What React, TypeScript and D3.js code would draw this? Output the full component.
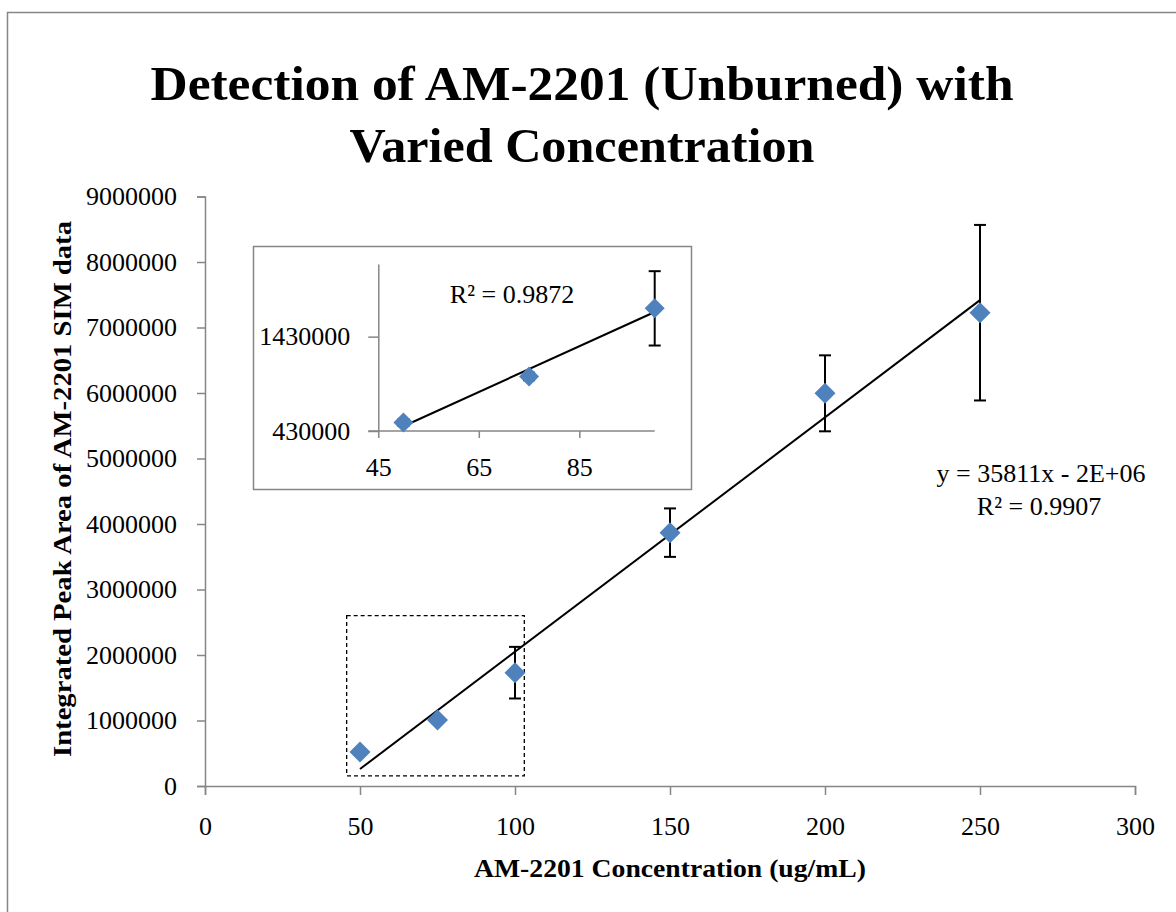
import { useEffect, useRef } from "react"
import * as d3 from "d3"

// concentration (ug/mL) vs integrated peak area
const concentrations = [50, 75, 100, 150, 200, 250]
const peakAreas = [519000, 1008000, 1730000, 3868000, 5995000, 7226000]
const errorBars = [35000, 40000, 394000, 370000, 580000, 1340000]

const xTicks = [0, 50, 100, 150, 200, 250, 300]
const yTicks = [0, 1000000, 2000000, 3000000, 4000000, 5000000, 6000000, 7000000, 8000000, 9000000]

// inset (zoom on low concentrations)
const insetCount = 3
const insetXTicks = [45, 65, 85]
const insetYTicks = [430000, 1430000]
// dashed box marking the inset region, in data units [x0, x1, y0, y1]
const zoomRegion = [45.7, 103, 156000, 2600000]

const titleLines = ["Detection of AM-2201 (Unburned) with", "Varied Concentration"]
const mainEquation = ["y = 35811x - 2E+06", "R\u00b2 = 0.9907"]
const insetEquation = "R\u00b2 = 0.9872"

const FONT = "'Liberation Serif', 'Times New Roman', serif"
const AXIS = "#868686"
const BLUE = "#4f81bd"

function fitLine(xs, ys) {
  const mx = d3.mean(xs), my = d3.mean(ys)
  let sxy = 0, sxx = 0
  xs.forEach((x, i) => { sxy += (x - mx) * (ys[i] - my); sxx += (x - mx) * (x - mx) })
  const slope = sxy / sxx
  return { slope, intercept: my - slope * mx }
}

export default function App() {
  const ref = useRef(null)
  const width = 1176, height = 912

  useEffect(() => {
    const svg = d3.select(ref.current)
    svg.selectAll("*").remove()

    // outer chart frame
    svg.append("rect")
      .attr("x", 7.5).attr("y", 12.5)
      .attr("width", 1200).attr("height", 960)
      .attr("fill", "white").attr("stroke", AXIS).attr("stroke-width", 1.5)

    // title (Palatino-like width, squeezed from Liberation Serif)
    const titleWidths = [863, 465]
    svg.selectAll(".title")
      .data(titleLines)
      .enter().append("text")
      .attr("x", 582).attr("y", (d, i) => 100 + i * 62)
      .attr("text-anchor", "middle")
      .attr("textLength", (d, i) => titleWidths[i])
      .attr("lengthAdjust", "spacingAndGlyphs")
      .attr("font-family", FONT).attr("font-weight", "bold").attr("font-size", 49)
      .text(d => d)

    const x = d3.scaleLinear().domain([0, 300]).range([205, 1135])
    const y = d3.scaleLinear().domain([0, 9000000]).range([786, 196.5])

    const xAxis = svg.append("g")
      .attr("transform", `translate(0,${y(0)})`)
      .call(d3.axisBottom(x).tickValues(xTicks).tickSize(9).tickPadding(22).tickFormat(d3.format("d")))
    const yAxis = svg.append("g")
      .attr("transform", `translate(${x(0)},0)`)
      .call(d3.axisLeft(y).tickValues(yTicks).tickSize(8).tickPadding(20).tickFormat(d3.format("d")))

    ;[xAxis, yAxis].forEach(g => {
      g.select(".domain").attr("stroke", AXIS).attr("stroke-width", 1.5)
      g.selectAll(".tick line").attr("stroke", AXIS).attr("stroke-width", 1.5)
      g.selectAll(".tick text").attr("font-family", FONT).attr("font-size", 26).attr("fill", "#000")
    })

    // axis titles
    svg.append("text")
      .attr("x", 670).attr("y", 877)
      .attr("text-anchor", "middle")
      .attr("textLength", 392).attr("lengthAdjust", "spacingAndGlyphs")
      .attr("font-family", FONT).attr("font-weight", "bold").attr("font-size", 25)
      .text("AM-2201 Concentration (ug/mL)")
    svg.append("text")
      .attr("transform", "translate(71,489) rotate(-90)")
      .attr("text-anchor", "middle")
      .attr("textLength", 536).attr("lengthAdjust", "spacingAndGlyphs")
      .attr("font-family", FONT).attr("font-weight", "bold").attr("font-size", 25)
      .text("Integrated Peak Area of AM-2201 SIM data")

    // dashed box
    svg.append("rect")
      .attr("x", x(zoomRegion[0])).attr("y", y(zoomRegion[3]))
      .attr("width", x(zoomRegion[1]) - x(zoomRegion[0]))
      .attr("height", y(zoomRegion[2]) - y(zoomRegion[3]))
      .attr("fill", "none").attr("stroke", "#000").attr("stroke-width", 1.3)
      .attr("stroke-dasharray", "4,3")

    const pts = concentrations.map((c, i) => ({ c, v: peakAreas[i], e: errorBars[i] }))

    // trend line
    const fit = fitLine(concentrations, peakAreas)
    const xr = d3.extent(concentrations)
    svg.append("line")
      .attr("x1", x(xr[0])).attr("y1", y(fit.slope * xr[0] + fit.intercept))
      .attr("x2", x(xr[1])).attr("y2", y(fit.slope * xr[1] + fit.intercept))
      .attr("stroke", "#000").attr("stroke-width", 2)

    const drawPoints = (g, data, sx, sy, r) => {
      const eb = g.selectAll(".eb").data(data).enter().append("g")
      eb.append("line")
        .attr("x1", d => sx(d.c)).attr("x2", d => sx(d.c))
        .attr("y1", d => sy(d.v + d.e)).attr("y2", d => sy(d.v - d.e))
      eb.append("line")
        .attr("x1", d => sx(d.c) - 6).attr("x2", d => sx(d.c) + 6)
        .attr("y1", d => sy(d.v + d.e)).attr("y2", d => sy(d.v + d.e))
      eb.append("line")
        .attr("x1", d => sx(d.c) - 6).attr("x2", d => sx(d.c) + 6)
        .attr("y1", d => sy(d.v - d.e)).attr("y2", d => sy(d.v - d.e))
      eb.selectAll("line").attr("stroke", "#000").attr("stroke-width", 2)

      g.selectAll(".pt").data(data).enter().append("path")
        .attr("d", d3.symbol(d3.symbolSquare, r * r * 2)())
        .attr("transform", d => `translate(${sx(d.c)},${sy(d.v)}) rotate(45)`)
        .attr("fill", BLUE)
    }

    drawPoints(svg.append("g"), pts, x, y, 10.5)

    svg.selectAll(".eq")
      .data(mainEquation)
      .enter().append("text")
      .attr("x", (d, i) => (i === 0 ? 1041 : 1039))
      .attr("y", (d, i) => 482 + i * 33)
      .attr("text-anchor", "middle")
      .attr("font-family", FONT).attr("font-size", 26)
      .text(d => d)

    // inset chart
    const inset = svg.append("g")
    inset.append("rect")
      .attr("x", 253.5).attr("y", 246.5).attr("width", 438).attr("height", 243)
      .attr("fill", "white").attr("stroke", AXIS).attr("stroke-width", 1.5)

    const ix = d3.scaleLinear().domain([45, 100]).range([378.3, 654.7])
    const iy = d3.scaleLinear().domain([430000, 2200000]).range([431, 264])

    const ixAxis = inset.append("g")
      .attr("transform", `translate(0,${iy(430000)})`)
      .call(d3.axisBottom(ix).tickValues(insetXTicks).tickSize(7).tickSizeOuter(0).tickPadding(20))
    const iyAxis = inset.append("g")
      .attr("transform", `translate(${ix(45)},0)`)
      .call(d3.axisLeft(iy).tickValues(insetYTicks).tickSize(10).tickSizeOuter(0).tickPadding(18).tickFormat(d3.format("d")))
    ;[ixAxis, iyAxis].forEach(g => {
      g.select(".domain").attr("stroke", AXIS).attr("stroke-width", 1.5)
      g.selectAll(".tick line").attr("stroke", AXIS).attr("stroke-width", 1.5)
      g.selectAll(".tick text").attr("font-family", FONT).attr("font-size", 26).attr("fill", "#000")
    })
    // x-axis line extends left past the y axis like the y tick marks
    ixAxis.select(".domain").attr("d", `M${ix(45) - 10},0H${ix(100)}`)

    const insetPts = pts.slice(0, insetCount)
    const ifit = fitLine(insetPts.map(d => d.c), insetPts.map(d => d.v))
    const ixr = d3.extent(insetPts, d => d.c)
    inset.append("line")
      .attr("x1", ix(ixr[0])).attr("y1", iy(ifit.slope * ixr[0] + ifit.intercept))
      .attr("x2", ix(ixr[1])).attr("y2", iy(ifit.slope * ixr[1] + ifit.intercept))
      .attr("stroke", "#000").attr("stroke-width", 2)

    drawPoints(inset.append("g"), insetPts, ix, iy, 10)

    inset.append("text")
      .attr("x", 512).attr("y", 303)
      .attr("text-anchor", "middle")
      .attr("font-family", FONT).attr("font-size", 26)
      .text(insetEquation)
  }, [])

  return (
    <svg ref={ref} width={width} height={height}
      style={{ position: "absolute", left: 0, top: 0, background: "white" }} />
  )
}
